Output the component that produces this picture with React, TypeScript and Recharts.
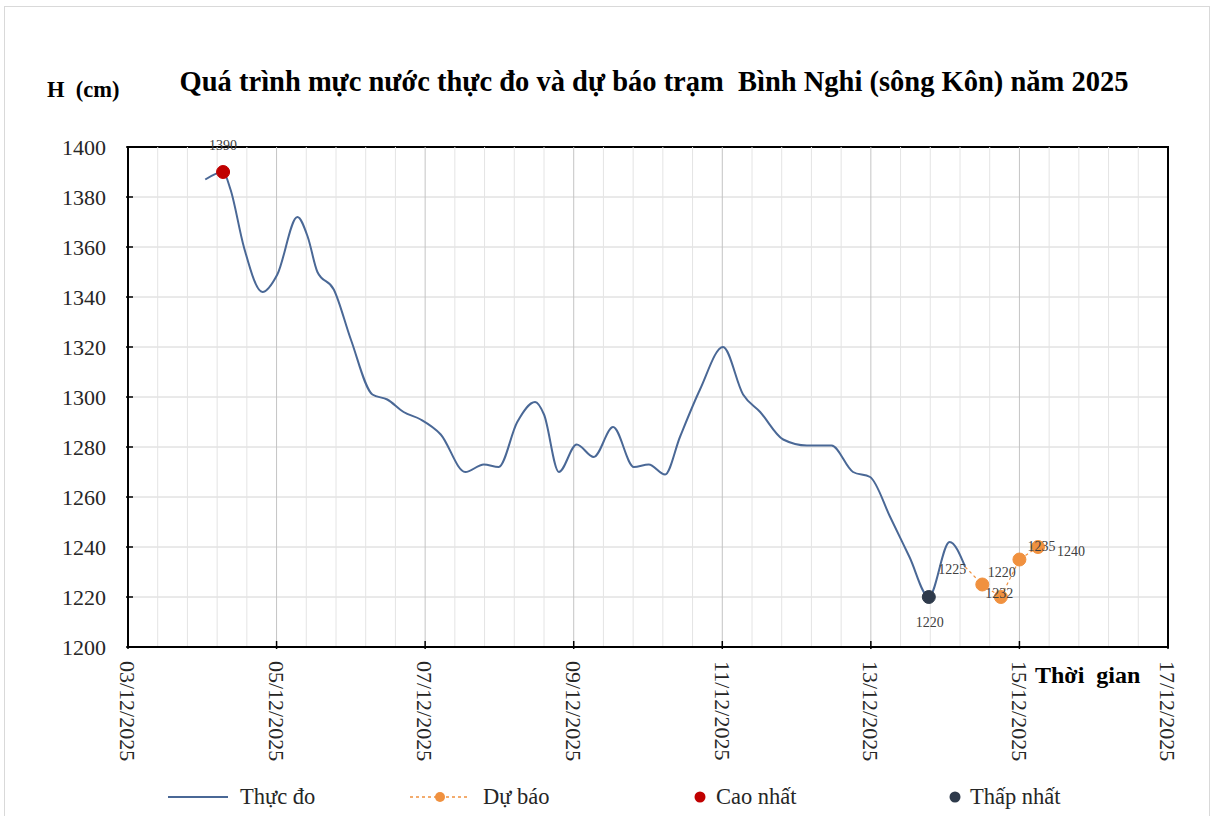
import React from 'react';
import {
  ComposedChart,
  Line,
  XAxis,
  YAxis,
  CartesianGrid,
  ReferenceLine,
  ReferenceArea,
  LabelList,
} from 'recharts';

// ---- data (days of December 2025, water level H in cm) ----
const obsDays = [
  4.04, 4.28, 4.38, 4.56, 4.81, 5.01, 5.28, 5.42, 5.55, 5.77, 6.0, 6.29, 6.49, 6.71, 6.94,
  7.21, 7.54, 7.79, 7.99, 8.24, 8.48, 8.6, 8.8, 9.04, 9.27, 9.53, 9.81, 10.01, 10.23, 10.43,
  10.7, 11.01, 11.28, 11.51, 11.82, 12.14, 12.47, 12.76, 12.99, 13.26, 13.52, 13.78, 14.06, 14.27,
];
const obsLevels = [
  1387, 1390, 1383, 1360, 1342, 1349, 1372, 1364, 1350, 1343, 1323, 1301, 1299, 1294, 1291,
  1285, 1270, 1273, 1272, 1290, 1298, 1293, 1270, 1281, 1276, 1288, 1272, 1273, 1269, 1284,
  1303, 1320, 1301, 1294, 1283, 1280.6, 1280.6, 1270, 1268, 1252, 1236, 1220, 1242, 1232,
];
const fcDays = [14.27, 14.5, 14.75, 15.0, 15.25];
const fcLevels = [1232, 1225, 1220, 1235, 1240];
const maxDay = [4.28];
const maxLevel = [1390];
const minDay = [13.78];
const minLevel = [1220];

const xTickDays = [3, 5, 7, 9, 11, 13, 15, 17];
const xTickLabels = [
  '03/12/2025', '05/12/2025', '07/12/2025', '09/12/2025',
  '11/12/2025', '13/12/2025', '15/12/2025', '17/12/2025',
];
const yTicks = [1200, 1220, 1240, 1260, 1280, 1300, 1320, 1340, 1360, 1380, 1400];

const TITLE = 'Quá trình mực nước thực đo và dự báo trạm  Bình Nghi (sông Kôn) năm 2025';
const Y_TITLE = 'H  (cm)';
const X_TITLE = 'Thời  gian';
const LEGEND = ['Thực đo', 'Dự báo', 'Cao nhất', 'Thấp nhất'];

// gridline positions (every 0.4 day minor, 2 days major)
const minorGridDays = Array.from({ length: 35 }, (_, i) => +(3 + 0.4 * (i + 1)).toFixed(1)).filter(
  (d) => d < 17 && Math.abs((d - 3) / 2 - Math.round((d - 3) / 2)) > 1e-6
);
const majorGridDays = [5, 7, 9, 11, 13, 15];

const FONT = '"Liberation Serif", "Times New Roman", Times, serif';
const C_OBS = '#4a6896';
const C_FC = '#f0913f';
const C_MAX = '#c00000';
const C_MIN = '#2e3a4b';

const XTick = (props: any) => {
  const { x, y, payload } = props;
  const idx = xTickDays.indexOf(payload.value);
  const label = idx >= 0 ? xTickLabels[idx] : '';
  return (
    <g>
      <line x1={x} x2={x} y1={y} y2={y - 8} stroke="#000" strokeWidth={1.5} />
      <g transform={`translate(${x},${y + 12}) rotate(90)`}>
        <text x={0} y={0} dy="0.35em" textAnchor="start" fontFamily={FONT} fontSize={22} fill="#262626">
          {label}
        </text>
      </g>
    </g>
  );
};

const YTick = (props: any) => {
  const { x, y, payload } = props;
  return (
    <g>
      <line x1={x} x2={x + 7} y1={y} y2={y} stroke="#000" strokeWidth={1.5} />
      <text x={x - 20} y={y} dy="0.35em" textAnchor="end" fontFamily={FONT} fontSize={22} fill="#262626">
        {payload.value}
      </text>
    </g>
  );
};

const makeLabel = (offsets: number[][]) => (props: any) => {
  const { x, y, value, index } = props;
  const o = offsets[index] || [0, 0];
  return (
    <text
      x={x + o[0]}
      y={y + o[1]}
      dy="0.35em"
      textAnchor="middle"
      fontFamily={FONT}
      fontSize={14}
      fill="#404040"
    >
      {value}
    </text>
  );
};

const FcDot = (props: any) => {
  const { cx, cy, index } = props;
  if (index === 0 || cx == null) return <g key={`fc-${index}`} />;
  return <circle key={`fc-${index}`} cx={cx} cy={cy} r={6.5} fill={C_FC} stroke={C_FC} strokeWidth={1} />;
};

export default function App() {
  const obs = obsDays.map((d, i) => ({ d, v: obsLevels[i] }));
  const fc = fcDays.map((d, i) => ({ d, v: fcLevels[i] }));
  const mx = maxDay.map((d, i) => ({ d, v: maxLevel[i] }));
  const mn = minDay.map((d, i) => ({ d, v: minLevel[i] }));

  const legendText: React.CSSProperties = {
    position: 'absolute',
    top: 784,
    fontFamily: FONT,
    fontSize: 22.5,
    lineHeight: '26px',
    color: '#262626',
    whiteSpace: 'pre',
  };

  return (
    <div
      style={{
        position: 'absolute',
        left: 0,
        top: 0,
        width: 1214,
        height: 816,
        overflow: 'hidden',
        background: '#fff',
        fontFamily: FONT,
      }}
    >
      <div
        style={{
          position: 'absolute',
          left: 4,
          top: 6,
          width: 1206,
          height: 840,
          border: '1px solid #d9d9d9',
          boxSizing: 'border-box',
        }}
      />
      <div style={{ position: 'absolute', left: 0, top: 0 }}>
        <ComposedChart width={1214} height={816} margin={{ top: 147, right: 46, bottom: 0, left: 0 }}>
          <CartesianGrid vertical={false} stroke="#d4d4d4" strokeWidth={1} />
          {minorGridDays.map((d) => (
            <ReferenceLine key={`mi-${d}`} x={d} stroke="#e4e4e4" strokeWidth={1} />
          ))}
          {majorGridDays.map((d) => (
            <ReferenceLine key={`ma-${d}`} x={d} stroke="#c4c4c4" strokeWidth={1} />
          ))}
          <XAxis
            type="number"
            dataKey="d"
            domain={[3, 17]}
            ticks={xTickDays}
            interval={0}
            height={169}
            tickSize={0}
            tickLine={false}
            axisLine={{ stroke: '#000', strokeWidth: 2 }}
            tick={<XTick />}
            allowDataOverflow
          />
          <YAxis
            type="number"
            domain={[1200, 1400]}
            ticks={yTicks}
            interval={0}
            width={128}
            tickSize={0}
            tickLine={false}
            axisLine={{ stroke: '#000', strokeWidth: 2 }}
            tick={<YTick />}
            allowDataOverflow
          />
          <ReferenceArea x1={3} x2={17} y1={1200} y2={1400} fill="none" fillOpacity={0} stroke="#000" strokeWidth={2} />
          <Line
            data={obs}
            dataKey="v"
            type="monotone"
            stroke={C_OBS}
            strokeWidth={2}
            dot={false}
            activeDot={false}
            isAnimationActive={false}
          />
          <Line
            data={fc}
            dataKey="v"
            type="linear"
            stroke={C_FC}
            strokeWidth={1.2}
            strokeDasharray="3 3"
            dot={<FcDot />}
            activeDot={false}
            isAnimationActive={false}
          >
            <LabelList
              dataKey="v"
              content={makeLabel([
                [34, 26],
                [-30, -15],
                [1, -25],
                [22, -13],
                [33, 4],
              ])}
            />
          </Line>
          <Line
            data={mx}
            dataKey="v"
            stroke="none"
            dot={{ r: 6.5, fill: C_MAX, stroke: C_MAX, strokeWidth: 1 }}
            activeDot={false}
            isAnimationActive={false}
          >
            <LabelList dataKey="v" content={makeLabel([[0, -27]])} />
          </Line>
          <Line
            data={mn}
            dataKey="v"
            stroke="none"
            dot={{ r: 6.5, fill: C_MIN, stroke: C_MIN, strokeWidth: 1 }}
            activeDot={false}
            isAnimationActive={false}
          >
            <LabelList dataKey="v" content={makeLabel([[1, 25]])} />
          </Line>
        </ComposedChart>
      </div>

      {/* titles */}
      <div
        style={{
          position: 'absolute',
          left: 654,
          top: 66,
          transform: 'translateX(-50%)',
          fontFamily: FONT,
          fontWeight: 'bold',
          fontSize: 28.5,
          lineHeight: '32px',
          whiteSpace: 'pre',
          color: '#000',
        }}
      >
        {TITLE}
      </div>
      <div
        style={{
          position: 'absolute',
          left: 47,
          top: 77,
          fontFamily: FONT,
          fontWeight: 'bold',
          fontSize: 22.5,
          lineHeight: '26px',
          whiteSpace: 'pre',
          color: '#000',
        }}
      >
        {Y_TITLE}
      </div>
      <div
        style={{
          position: 'absolute',
          left: 1035,
          top: 661,
          fontFamily: FONT,
          fontWeight: 'bold',
          fontSize: 24,
          lineHeight: '28px',
          whiteSpace: 'pre',
          color: '#000',
        }}
      >
        {X_TITLE}
      </div>

      {/* legend */}
      <svg style={{ position: 'absolute', left: 0, top: 780 }} width={1214} height={36}>
        <line x1={168} x2={228} y1={17} y2={17} stroke={C_OBS} strokeWidth={2} />
        <line x1={410} x2={470} y1={17} y2={17} stroke={C_FC} strokeWidth={1.5} strokeDasharray="3 3" />
        <circle cx={440} cy={17} r={5} fill={C_FC} />
        <circle cx={700} cy={17} r={5.5} fill={C_MAX} />
        <circle cx={955} cy={17} r={5.5} fill={C_MIN} />
      </svg>
      <div style={{ ...legendText, left: 240 }}>{LEGEND[0]}</div>
      <div style={{ ...legendText, left: 483 }}>{LEGEND[1]}</div>
      <div style={{ ...legendText, left: 716 }}>{LEGEND[2]}</div>
      <div style={{ ...legendText, left: 970 }}>{LEGEND[3]}</div>
    </div>
  );
}
